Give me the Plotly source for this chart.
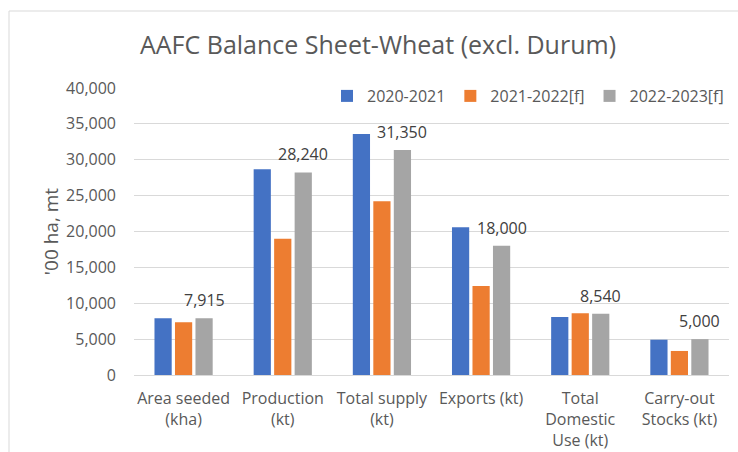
import plotly.graph_objects as go

categories = ["Area seeded<br>(kha)", "Production<br>(kt)", "Total supply<br>(kt)",
              "Exports (kt)", "Total<br>Domestic<br>Use (kt)", "Carry-out<br>Stocks (kt)"]
series_names = ["2020-2021", "2021-2022[f]", "2022-2023[f]"]
values_2020 = [7900, 28670, 33590, 20590, 8080, 4920]
values_2021 = [7340, 19000, 24210, 12400, 8600, 3350]
values_2022 = [7915, 28240, 31350, 18000, 8540, 5000]
colors = ["#4472C4", "#ED7D31", "#A5A5A5"]
y_ticks = [0, 5000, 10000, 15000, 20000, 25000, 30000, 35000, 40000]

FONT = "Open Sans"
W, H = 738, 452
L, R, T, B = 134, 9, 88, 77
pw, ph = W - L - R, H - T - B
BARGAP, GROUPGAP = 0.38, 0.16

fig = go.Figure()
for name, vals, col in zip(series_names, [values_2020, values_2021, values_2022], colors):
    fig.add_trace(go.Bar(x=categories, y=vals, name=name, marker_color=col,
                         marker_line_width=0))

# data labels over the last series, shifted by one bar slot from the category centre
slot_px = pw / len(categories) * (1 - BARGAP) / len(series_names)
for cat, v in zip(categories, values_2022):
    fig.add_annotation(x=cat, y=v, xref="x", yref="y", text=f"{v:,}",
                       showarrow=False, xshift=slot_px, yshift=18,
                       xanchor="center", yanchor="middle",
                       font=dict(family=FONT, size=16, color="#404040"))

# chart frame (top and left border)
fig.add_shape(type="rect", xref="paper", yref="paper",
              x0=(9 - L) / pw, x1=(W + 5 - L) / pw,
              y0=-(B + 5) / ph, y1=(ph + T - 11) / ph,
              line=dict(color="#D9D9D9", width=1), layer="below")

fig.update_layout(
    width=W, height=H,
    margin=dict(l=L, r=R, t=T, b=B, autoexpand=False),
    paper_bgcolor="white", plot_bgcolor="white",
    font=dict(family=FONT, size=16, color="#595959"),
    title=dict(text="AAFC Balance Sheet-Wheat (excl. Durum)",
               font=dict(family=FONT, size=25, color="#595959"),
               xref="container", yref="container",
               x=378 / W, xanchor="center", y=1 - 45 / H, yanchor="middle"),
    barmode="group", bargap=BARGAP, bargroupgap=GROUPGAP,
    showlegend=True,
    legend=dict(orientation="h", x=1, xanchor="right",
                y=(ph - 8) / ph, yanchor="middle",
                font=dict(family=FONT, size=16, color="#595959"),
                bgcolor="rgba(0,0,0,0)", traceorder="normal"),
    xaxis=dict(showgrid=False, showline=False, ticks="", ticklabelstandoff=12,
               tickfont=dict(family=FONT, size=16, color="#595959")),
    yaxis=dict(range=[0, 40000], tickvals=y_ticks,
               ticktext=[f"{v:,}" for v in y_ticks],
               showgrid=True, gridcolor="#D9D9D9", gridwidth=1,
               zeroline=True, zerolinecolor="#D9D9D9", zerolinewidth=1,
               showline=False, ticks="", ticklabelstandoff=17,
               tickfont=dict(family=FONT, size=16, color="#595959"),
               title=dict(text="'00 ha, mt", standoff=2,
                          font=dict(family=FONT, size=19, color="#595959"))),
)
fig.write_html("out.html", config={"displayModeBar": False},
               post_script="document.body.style.margin='0';")
